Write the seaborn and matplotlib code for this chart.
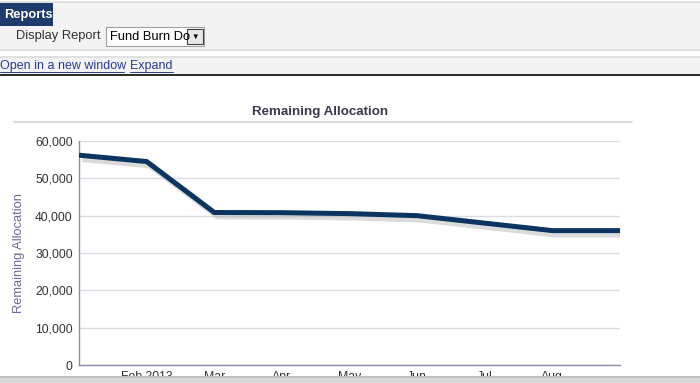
import matplotlib
matplotlib.use("Agg")
import matplotlib.pyplot as plt
import matplotlib.patheffects as pe
from matplotlib.patches import Rectangle
from matplotlib.lines import Line2D
import seaborn as sns
import pandas as pd

# ---- data ----
months = ["Jan", "Feb 2013", "Mar", "Apr", "May", "Jun", "Jul", "Aug", "Sep"]
remaining = [56200, 54500, 40850, 40800, 40550, 40000, 38000, 36000, 36000]
tick_labels = ["Feb 2013", "Mar", "Apr", "May", "Jun", "Jul", "Aug"]
y_ticks = [0, 10000, 20000, 30000, 40000, 50000, 60000]

df = pd.DataFrame({"idx": list(range(len(months))), "value": remaining})

sns.set_theme(style="white")
plt.rcParams["font.family"] = ["Liberation Sans", "DejaVu Sans"]

W, H = 700, 383
fig = plt.figure(figsize=(W / 100, H / 100), dpi=100)
fig.patch.set_facecolor("white")


def fx(x):
    return x / W


def fy(y):
    return 1 - y / H


def rect(x0, y0, x1, y1, fc, ec="none", lw=0, z=0):
    fig.add_artist(Rectangle((fx(x0), fy(y1)), fx(x1) - fx(x0), fy(y0) - fy(y1),
                             transform=fig.transFigure, facecolor=fc, edgecolor=ec,
                             linewidth=lw, zorder=z))


def hline(x0, x1, y, color, lw=1, z=1):
    fig.add_artist(Line2D([fx(x0), fx(x1)], [fy(y), fy(y)], transform=fig.transFigure,
                          color=color, linewidth=lw, zorder=z))


# ---- page chrome ----
rect(0, 2, W, 49, "#f3f3f3")
hline(0, W, 2, "#dcdcdc", 1.2)
hline(0, W, 49.5, "#dcdcdc", 1.2)
rect(0, 57, W, 74, "#f3f3f3")
hline(0, W, 57, "#dcdcdc", 1.2)
rect(0, 73.5, W, 76, "#2e2e2e")
# Reports tab
rect(0, 3, 53, 26, "#1f3b6b")
fig.text(fx(4), fy(15), "Reports", color="white", fontsize=9.3, fontweight="bold",
         ha="left", va="center")
fig.text(fx(16), fy(36.5), "Display Report", color="#333333", fontsize=9.3,
         ha="left", va="center")
# dropdown
rect(106, 27, 204, 45.5, "white", ec="#a0a0a0", lw=0.8, z=2)
fig.text(fx(110), fy(36.5), "Fund Burn Do", color="black", fontsize=9.3,
         ha="left", va="center", zorder=3)
rect(187, 29, 203, 44, "#e8e8e8", ec="#404040", lw=0.8, z=3)
fig.text(fx(195), fy(37), "\u25BC", color="black", fontsize=5.5, ha="center",
         va="center", zorder=4)
# links
fig.text(fx(0.5), fy(66), "Open in a new window", color="#2a3d8f", fontsize=9.0,
         ha="left", va="center")
fig.text(fx(130), fy(66), "Expand", color="#2a3d8f", fontsize=9.0, ha="left",
         va="center")
hline(0, 124, 72, "#2a3d8f", 0.7, 2)
hline(130, 173, 72, "#2a3d8f", 0.7, 2)

# ---- chart ----
ax = fig.add_axes([fx(79), fy(365), fx(620) - fx(79), fy(141) - fy(365)])
sns.lineplot(data=df, x="idx", y="value", ax=ax, color="#0b3560", linewidth=3.6,
             solid_joinstyle="miter", solid_capstyle="butt", zorder=5,
             path_effects=[pe.SimpleLineShadow(offset=(2.5, -2.5), shadow_color="#8a8a8a",
                                               alpha=0.3, linewidth=5),
                           pe.Normal()])
ax.set_xlim(0, len(months) - 1)
ax.set_ylim(0, 60000)
ax.set_yticks(y_ticks)
ax.set_yticklabels([f"{v:,}" for v in y_ticks])
ax.set_xticks(range(1, len(tick_labels) + 1))
ax.set_xticklabels(tick_labels)
ax.grid(axis="y", color="#dcdce6", linewidth=1)
ax.set_axisbelow(True)
for s in ["top", "right"]:
    ax.spines[s].set_visible(False)
for s in ["left", "bottom"]:
    ax.spines[s].set_color("#8c8ca8")
    ax.spines[s].set_linewidth(1)
ax.tick_params(axis="y", length=0, pad=4.5, labelsize=8.8, labelcolor="#333333")
ax.tick_params(axis="x", length=0, pad=4, labelsize=8.8, labelcolor="#333333")
ax.set_xlabel("")
ax.set_ylabel("Remaining Allocation", color="#6a6a9a", fontsize=9.3)
ax.yaxis.set_label_coords((25 - 79) / 541, 0.5)
ax.text((320 - 79) / 541, (365 - 112) / 224, "Remaining Allocation",
        transform=ax.transAxes, ha="center", va="center", fontsize=9.6,
        fontweight="bold", color="#3a3a4e", clip_on=False)
hline(14, 632, 122, "#d6d6de", 1.3)

# bottom bar cutting the tick labels
rect(0, 376, W, 383, "#d9d9d9", z=20)
hline(0, W, 376.5, "#bdbdbd", 1.2, 21)

fig.savefig("out.png", dpi=100, facecolor="white")
